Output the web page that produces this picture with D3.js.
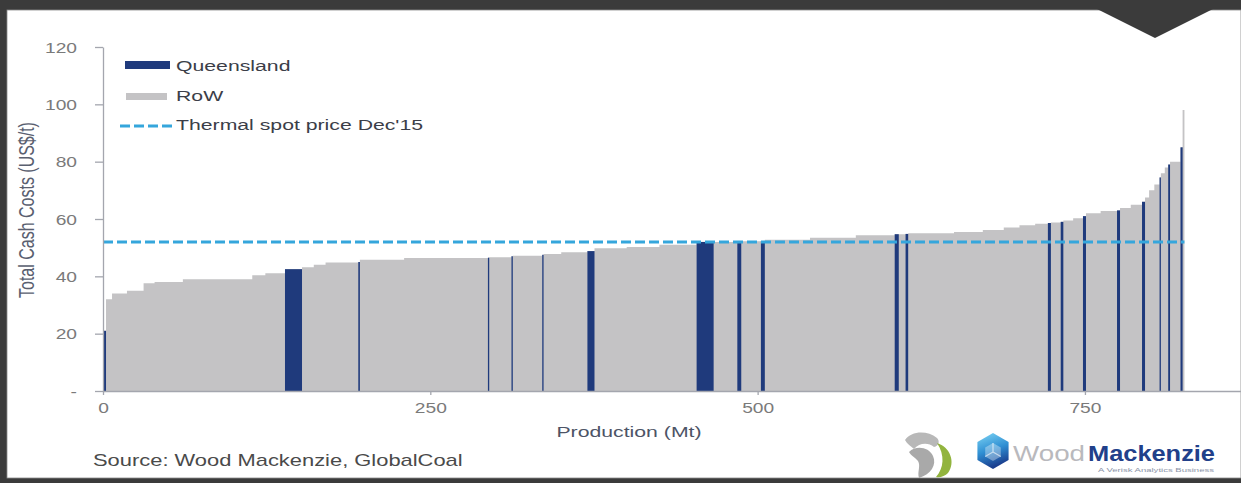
<!DOCTYPE html>
<html>
<head>
<meta charset="utf-8">
<script src="https://cdn.jsdelivr.net/npm/d3@7"></script>
<style>
  html, body { margin: 0; padding: 0; background: #fff; overflow: hidden; }
  svg { display: block; font-family: "Liberation Sans", Arial, sans-serif; }
</style>
</head>
<body>
<svg id="chart" width="1241" height="483"></svg>
<script>
// Coal supply cost curve: mines sorted by total cash cost, widths are output (Mt)
const mineRegion = [
  "Q","R","R","R","R","R","R","R","R","Q",
  "R","R","R","Q","R","R","Q","R","Q","R",
  "Q","R","R","Q","R","R","R","Q","R","Q",
  "R","Q","R","R","R","Q","R","Q","R","R",
  "R","R","R","R","Q","R","Q","R","R","Q",
  "R","R","Q","R","R","Q","R","R","R","Q",
  "R","R","Q","R","Q","R"
];
const mineProduction = [
  2.3, 4.6, 11.4, 12.7, 8.4, 21.6, 53, 10, 15, 13,
  9, 9, 25, 1.2, 33.8, 64, 1, 17, 1, 22.5,
  1, 13.5, 20, 5.4, 24.6, 25, 28.4, 13, 18.1, 3,
  15, 3, 34.5, 35, 29.7, 3.1, 5.2, 2, 35, 22,
  16, 12, 12, 9.7, 2.3, 7.5, 2, 7.5, 7.5, 2.3,
  11.2, 12.5, 2.3, 8.2, 8.6, 2.3, 3.1, 4, 4, 1,
  3, 2.6, 1.4, 8, 1.6, 1.4
];
const mineCost = [
  21, 32, 34, 35, 37.6, 38, 39, 40.4, 41.1, 42.5,
  43.2, 44, 44.8, 45, 45.8, 46.4, 46.5, 46.7, 47, 47.2,
  47.5, 47.8, 48.4, 48.8, 49.8, 50.2, 51, 52, 52, 52,
  52.2, 52.3, 52.8, 53.5, 54.3, 54.7, 54.7, 54.8, 55, 55.5,
  56.2, 57, 57.8, 58.3, 58.6, 58.8, 59, 59.5, 60.3, 61,
  62, 62.8, 63, 63.8, 65, 66, 67.5, 70, 72, 74.5,
  76, 78, 79, 80, 85, 98
];
const spotPriceDec15 = 52;

const yTickValues = [0, 20, 40, 60, 80, 100, 120];
const yTickLabels = ["-", "20", "40", "60", "80", "100", "120"];
const xTickValues = [0, 250, 500, 750];
const xTickLabels = ["0", "250", "500", "750"];
const legendLabels = ["Queensland", "RoW", "Thermal spot price Dec'15"];

const COLORS = {
  frame: "#3b3b3b",
  queensland: "#1f3a7c",
  row: "#c4c3c5",
  spot: "#35a6dc",
  axis: "#a4a6ae",
  tickText: "#7a7a7a",
  text: "#3e414a"
};
const SX = 1.37; // horizontal stretch applied to every text run

const svg = d3.select("#chart");

// ---- frame -----------------------------------------------------------
svg.append("rect").attr("width", 1241).attr("height", 483).attr("fill", COLORS.frame);
svg.append("rect").attr("x", 7).attr("y", 10).attr("width", 1234).attr("height", 468)
  .attr("fill", "#fff").attr("stroke", "#8a8a8a").attr("stroke-width", 0.8);
svg.append("path").attr("d", "M1097,9 L1213,9 L1155,38 Z").attr("fill", COLORS.frame);

// ---- scales ----------------------------------------------------------
const x = d3.scaleLinear().domain([0, 869.2]).range([103, 1241]);
const y = d3.scaleLinear().domain([0, 120]).range([391, 47]);

// cumulative positions of each mine
const ends = d3.cumsum(mineProduction);
const mines = mineProduction.map((p, i) => ({
  start: ends[i] - p, end: ends[i], cost: mineCost[i], region: mineRegion[i]
}));
const totalProduction = ends[ends.length - 1];

function stretchedText(parent, tx, ty, str, size, opts = {}) {
  return parent.append("text")
    .attr("transform", `translate(${tx},${ty}) scale(${SX},1)` + (opts.rotate ? ` rotate(${opts.rotate})` : ""))
    .attr("font-size", size)
    .attr("text-anchor", opts.anchor || "start")
    .attr("font-weight", opts.weight || "normal")
    .attr("fill", opts.fill || COLORS.text)
    .text(str);
}

// ---- RoW cost curve as a stepped area --------------------------------
const stepPoints = mines.map(m => ({ q: m.start, c: m.cost }))
  .concat([{ q: totalProduction, c: mines[mines.length - 1].cost }]);
svg.append("path")
  .datum(stepPoints)
  .attr("fill", COLORS.row)
  .attr("d", d3.area().curve(d3.curveStepAfter)
    .x(d => x(d.q)).y0(y(0)).y1(d => y(d.c)));

// ---- Queensland mines ------------------------------------------------
svg.append("g").selectAll("rect")
  .data(mines.filter(m => m.region === "Q"))
  .join("rect")
  .attr("x", d => x(d.start))
  .attr("width", d => x(d.end) - x(d.start))
  .attr("y", d => y(d.cost))
  .attr("height", d => y(0) - y(d.cost))
  .attr("fill", COLORS.queensland);

// ---- spot price line -------------------------------------------------
svg.append("line")
  .attr("x1", x(0)).attr("x2", x(totalProduction))
  .attr("y1", y(spotPriceDec15)).attr("y2", y(spotPriceDec15))
  .attr("stroke", COLORS.spot).attr("stroke-width", 3)
  .attr("stroke-dasharray", "10,4");

// ---- axes ------------------------------------------------------------
const yAxis = svg.append("g").attr("transform", `translate(${x(0)},0)`)
  .call(d3.axisLeft(y).tickValues(yTickValues).tickSize(8).tickSizeOuter(0)
    .tickFormat((d, i) => yTickLabels[i]));
yAxis.selectAll("path, line").attr("stroke", COLORS.axis).attr("stroke-width", 1.3);
yAxis.selectAll("text")
  .attr("x", -26 / SX).attr("dy", "0.36em")
  .attr("transform", `scale(${SX},1)`)
  .attr("font-size", 14).attr("font-family", null)
  .attr("fill", COLORS.tickText);

const xAxis = svg.append("g").attr("transform", `translate(0,${y(0)})`)
  .call(d3.axisBottom(x).tickValues(xTickValues).tickSize(4).tickSizeOuter(0)
    .tickFormat((d, i) => xTickLabels[i]));
xAxis.selectAll("path, line").attr("stroke", COLORS.axis).attr("stroke-width", 1.3);
xAxis.selectAll("text")
  .attr("y", 22).attr("dy", 0)
  .attr("transform", `scale(${SX},1)`)
  .attr("x", 0)
  .attr("font-size", 14).attr("font-family", null)
  .attr("fill", COLORS.tickText);

// axis titles
stretchedText(svg, 629, 437, "Production (Mt)", 15.5, { anchor: "middle", fill: "#4d5466" });
stretchedText(svg, 34, 210, "Total Cash Costs (US$/t)", 16, { anchor: "middle", rotate: -90, fill: "#5a6070" });

// ---- legend ----------------------------------------------------------
const legend = svg.append("g");
const legendRows = [71, 101, 130];
legend.append("rect").attr("x", 125).attr("y", 61).attr("width", 45).attr("height", 8)
  .attr("fill", COLORS.queensland);
legend.append("rect").attr("x", 126).attr("y", 93).attr("width", 41).attr("height", 7)
  .attr("fill", COLORS.row);
legend.append("line").attr("x1", 120).attr("x2", 172).attr("y1", 126).attr("y2", 126)
  .attr("stroke", COLORS.spot).attr("stroke-width", 3).attr("stroke-dasharray", "10,4");
legendLabels.forEach((lbl, i) => stretchedText(legend, 176, legendRows[i], lbl, 15.5, { fill: "#3b3e48" }));

// ---- source note -----------------------------------------------------
stretchedText(svg, 93, 466, "Source: Wood Mackenzie, GlobalCoal", 16, { fill: "#4a4a4a" });

// ---- publisher marks -------------------------------------------------
const defs = svg.append("defs");
const grad = defs.append("linearGradient").attr("id", "hexGrad")
  .attr("x1", 0).attr("y1", 0).attr("x2", 0.3).attr("y2", 1);
grad.append("stop").attr("offset", "0%").attr("stop-color", "#7fd6f5");
grad.append("stop").attr("offset", "55%").attr("stop-color", "#2f8fd3");
grad.append("stop").attr("offset", "100%").attr("stop-color", "#1b3f8f");

const hexCx = 993, hexCy = 451, hexR = 18;
const hexPts = d3.range(6).map(i => {
  const a = -Math.PI / 2 + i * Math.PI / 3;
  return [hexCx + hexR * Math.cos(a), hexCy + hexR * Math.sin(a)];
});
svg.append("path").attr("d", "M" + hexPts.join("L") + "Z").attr("fill", "url(#hexGrad)");
const innerPts = d3.range(6).map(i => {
  const a = -Math.PI / 2 + i * Math.PI / 3;
  return [hexCx + 9 * Math.cos(a), hexCy + 1 + 9 * Math.sin(a)];
});
svg.append("path").attr("d", "M" + innerPts.join("L") + "Z")
  .attr("fill", "rgba(255,255,255,0.35)");
svg.append("path")
  .attr("d", `M${innerPts[0]}L${hexCx},${hexCy + 1}L${innerPts[4]}M${hexCx},${hexCy + 1}L${innerPts[2]}`)
  .attr("stroke", "rgba(255,255,255,0.6)").attr("stroke-width", 1.2).attr("fill", "none");

svg.append("text").attr("x", 1013).attr("y", 461).attr("font-size", 22)
  .attr("fill", "#b9b9bd").attr("textLength", 72).attr("lengthAdjust", "spacingAndGlyphs")
  .text("Wood");
svg.append("text").attr("x", 1088).attr("y", 461).attr("font-size", 22).attr("font-weight", "bold")
  .attr("fill", "#21408a").attr("textLength", 127).attr("lengthAdjust", "spacingAndGlyphs")
  .text("Mackenzie");
svg.append("text").attr("x", 1098).attr("y", 472).attr("font-size", 5)
  .attr("fill", "#8a93a8").attr("textLength", 116).attr("lengthAdjust", "spacingAndGlyphs")
  .text("A Verisk Analytics Business");

// GlobalCoal emblem
const gc = svg.append("g");
gc.append("path")
  .attr("d", "M905,440 C911,431 927,430 937,438 C940,441 939,446 934,447 C928,442 919,443 914,449 C911,446 907,444 905,440 Z")
  .attr("fill", "#b8b8b8");
gc.append("path")
  .attr("d", "M909,452 C916,445 929,447 933,456 C937,465 931,474 919,478 C917,472 921,466 918,461 C915,457 911,456 909,452 Z")
  .attr("fill", "#a9a9a9");
gc.append("path")
  .attr("d", "M937,443 C950,447 956,462 948,473 C945,476 940,478 936,477 C944,468 945,455 937,443 Z")
  .attr("fill", "#92b43e");
</script>
</body>
</html>
